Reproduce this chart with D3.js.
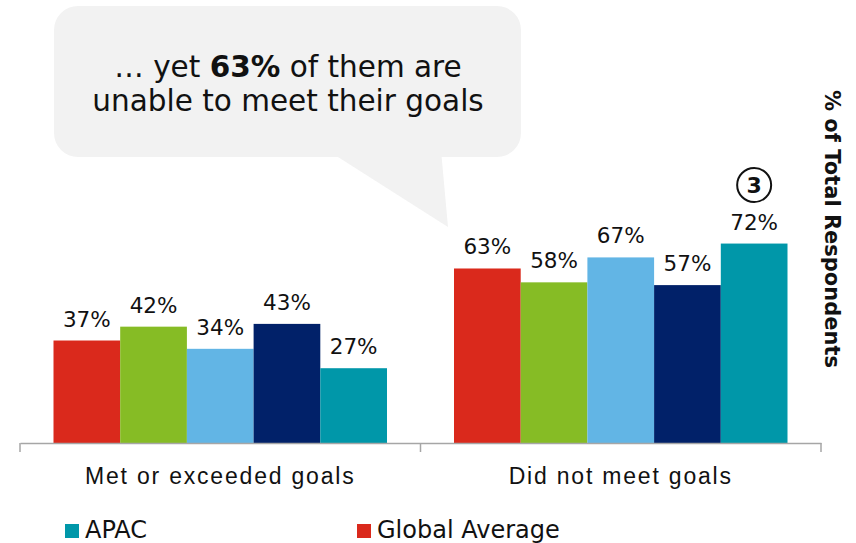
<!DOCTYPE html>
<html>
<head>
<meta charset="utf-8">
<script src="https://cdn.jsdelivr.net/npm/d3@7"></script>
<style>
  body { margin: 0; background: #fff; }
  svg { display: block; font-family: "DejaVu Sans", Verdana, sans-serif; }
</style>
</head>
<body>
<svg id="chart" width="856" height="543"></svg>
<script>
const categories = ["Met or exceeded goals", "Did not meet goals"];
const seriesNames = ["Global Average", "Region 2", "Region 3", "Region 4", "APAC"];
const seriesColors = ["#da291c", "#86bc25", "#62b5e5", "#012169", "#0097a9"];
const metGoals = [37, 42, 34, 43, 27];
const notMetGoals = [63, 58, 67, 57, 72];
const legendItems = ["APAC", "Global Average"];

const values = [metGoals, notMetGoals];
const data = categories.flatMap((c, ci) =>
  seriesNames.map((s, si) => ({ cat: c, series: s, value: values[ci][si], color: seriesColors[si] })));

const svg = d3.select("#chart");

// speech bubble
const bubble = svg.append("g");
bubble.append("path")
  .attr("d", "M327,150 L448,227 L441,150 Z")
  .attr("fill", "#f2f2f2");
bubble.append("rect")
  .attr("x", 54).attr("y", 6).attr("width", 467).attr("height", 151)
  .attr("rx", 24).attr("fill", "#f2f2f2");
const bt = bubble.append("text")
  .attr("text-anchor", "middle").attr("font-size", 29.5).attr("fill", "#111");
const l1 = bt.append("tspan").attr("x", 288).attr("y", 77);
l1.append("tspan").text("… yet ");
l1.append("tspan").attr("font-weight", "bold").text("63%");
l1.append("tspan").text(" of them are");
bt.append("tspan").attr("x", 288).attr("y", 111).text("unable to meet their goals");

const x0 = d3.scaleBand().domain(categories).range([20, 821]).paddingInner(0).paddingOuter(0);
const x1 = d3.scaleBand().domain(seriesNames).range([33.5, x0.bandwidth() - 33.5]);
const y = d3.scaleLinear().domain([0, 100]).range([443, 166]);

const groups = svg.append("g").selectAll("g")
  .data(categories).join("g")
  .attr("transform", d => `translate(${x0(d)},0)`);

groups.selectAll("rect")
  .data(c => data.filter(d => d.cat === c)).join("rect")
  .attr("x", d => x1(d.series))
  .attr("y", d => y(d.value))
  .attr("width", x1.bandwidth())
  .attr("height", d => y(0) - y(d.value))
  .attr("fill", d => d.color);

groups.selectAll("text.val")
  .data(c => data.filter(d => d.cat === c)).join("text")
  .attr("class", "val")
  .attr("x", d => x1(d.series) + x1.bandwidth() / 2)
  .attr("y", d => y(d.value) - 14)
  .attr("text-anchor", "middle")
  .attr("font-size", 21.5)
  .attr("fill", "#111")
  .text(d => d.value + "%");

// axis
const axis = svg.append("g").attr("transform", `translate(0,${y(0)})`)
  .call(d3.axisBottom(x0).tickValues([]).tickSizeOuter(0));
axis.select(".domain").attr("stroke", "#a6a6a6").attr("stroke-width", 1.5);
axis.selectAll(".sep")
  .data([20, 420.5, 821]).join("line")
  .attr("x1", d => d).attr("x2", d => d)
  .attr("y1", 0).attr("y2", 9)
  .attr("stroke", "#a6a6a6").attr("stroke-width", 1.5);
axis.selectAll(".cat")
  .data(categories).join("text")
  .attr("x", d => x0(d) + x0.bandwidth() / 2)
  .attr("y", 41)
  .attr("text-anchor", "middle")
  .attr("font-size", 23)
  .attr("letter-spacing", 1.8)
  .attr("fill", "#111")
  .text(d => d);

// circled marker above APAC bar
const apac = data.find(d => d.cat === categories[1] && d.series === "APAC");
const cx = x0(apac.cat) + x1(apac.series) + x1.bandwidth() / 2;
svg.append("circle").attr("cx", cx).attr("cy", 185).attr("r", 17)
  .attr("fill", "none").attr("stroke", "#111").attr("stroke-width", 2);
svg.append("text").attr("x", cx).attr("y", 193).attr("text-anchor", "middle")
  .attr("font-size", 22).attr("font-weight", "bold").attr("fill", "#111").text("3");

// right-side axis title
svg.append("text")
  .attr("transform", "translate(825,229) rotate(90)")
  .attr("text-anchor", "middle")
  .attr("font-size", 21).attr("font-weight", "bold").attr("fill", "#111")
  .text("% of Total Respondents");

// legend
const legendX = [65, 357];
const legend = svg.append("g").selectAll("g")
  .data(legendItems).join("g")
  .attr("transform", (d, i) => `translate(${legendX[i]},524)`);
legend.append("rect").attr("width", 14).attr("height", 14)
  .attr("fill", d => seriesColors[seriesNames.indexOf(d)]);
legend.append("text").attr("x", 20).attr("y", 14)
  .attr("font-size", 24)
  .attr("fill", "#111").text(d => d);
</script>
</body>
</html>
